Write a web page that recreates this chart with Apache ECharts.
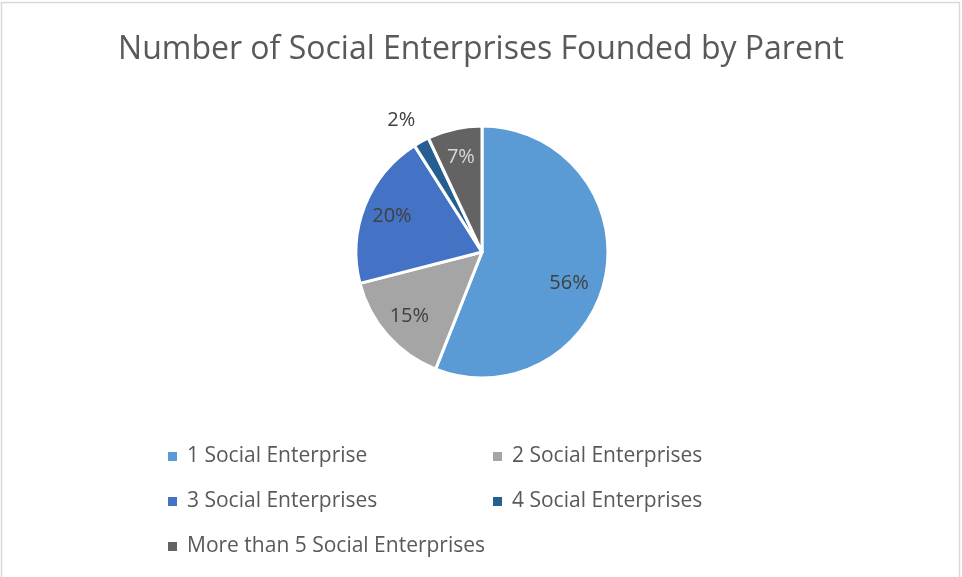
<!DOCTYPE html>
<html>
<head>
<meta charset="utf-8">
<script src="https://cdn.jsdelivr.net/npm/echarts@6/dist/echarts.min.js"></script>
<style>
  html, body { margin: 0; padding: 0; background: #ffffff; }
  #chart { width: 962px; height: 577px; }
</style>
</head>
<body>
<div id="chart"></div>
<script>
// Share of parents by number of social enterprises founded (percent)
const categories = [
  '1 Social Enterprise',
  '2 Social Enterprises',
  '3 Social Enterprises',
  '4 Social Enterprises',
  'More than 5 Social Enterprises'
];
const shares = [56, 15, 20, 2, 7];

// Styling
const sliceColors = ['#5B9BD5', '#A5A5A5', '#4472C4', '#255E91', '#636363'];
const labelColors = ['#404040', '#404040', '#404040', '#404040', '#D9D9D9'];
const FONT = '"Open Sans", "Noto Sans", sans-serif';
const RADIUS = 126;

// Excel-style label placement. ECharts puts an inside label at half the radius
// along the sector's mid angle; shift it to where Excel would draw it:
// ~3/4 of the radius, tiny slices just outside the rim, and the label of a
// slice larger than half the pie nudged toward its lower part.
const total = shares.reduce((a, b) => a + b, 0);
let acc = 0;
const pieData = shares.map((v, i) => {
  const frac = v / total;
  const mid = (acc + v / 2) / total * Math.PI * 2;
  acc += v;
  let dist = 0.745, ang = mid;
  if (frac < 0.05) { dist = 1.2; ang = mid - 0.05; }
  else if (frac > 0.5) { dist = 0.71; ang = mid + 0.16; }
  const bx = Math.sin(mid) * 0.5 * RADIUS, by = -Math.cos(mid) * 0.5 * RADIUS;
  const tx = Math.sin(ang) * dist * RADIUS, ty = -Math.cos(ang) * dist * RADIUS;
  return {
    name: categories[i],
    value: v,
    itemStyle: { color: sliceColors[i] },
    label: { color: labelColors[i], offset: [tx - bx, ty - by] }
  };
});

const legendCommon = {
  orient: 'vertical',
  icon: 'rect',
  itemWidth: 9,
  itemHeight: 9,
  itemGap: 24,
  height: 200,
  selectedMode: false,
  itemStyle: { borderWidth: 0 },
  textStyle: { color: '#595959', fontSize: 21, fontFamily: FONT, padding: [0, 0, 0, 5] }
};

const chart = echarts.init(document.getElementById('chart'), null, { renderer: 'canvas' });
chart.setOption({
  backgroundColor: '#ffffff',
  animation: false,
  graphic: [{
    type: 'rect',
    shape: { x: 1.5, y: 2.5, width: 958, height: 580 },
    style: { fill: 'none', stroke: '#D9D9D9', lineWidth: 1.5 },
    silent: true
  }],
  title: {
    text: 'Number of Social Enterprises Founded by Parent',
    left: 'center',
    top: 29,
    textStyle: { color: '#595959', fontSize: 32, fontWeight: 'normal', fontFamily: FONT }
  },
  legend: [
    Object.assign({}, legendCommon, {
      left: 163, top: 441,
      data: [categories[0], categories[2], categories[4]]
    }),
    Object.assign({}, legendCommon, {
      left: 488, top: 441,
      data: [categories[1], categories[3]]
    })
  ],
  series: [{
    type: 'pie',
    center: [482, 252],
    radius: [0, RADIUS],
    startAngle: 90,
    clockwise: true,
    avoidLabelOverlap: false,
    silent: true,
    itemStyle: { borderColor: '#ffffff', borderWidth: 3 },
    label: {
      show: true,
      position: 'inside',
      formatter: '{d}%',
      fontSize: 20,
      fontFamily: FONT
    },
    labelLine: { show: false },
    data: pieData
  }]
});
</script>
</body>
</html>
